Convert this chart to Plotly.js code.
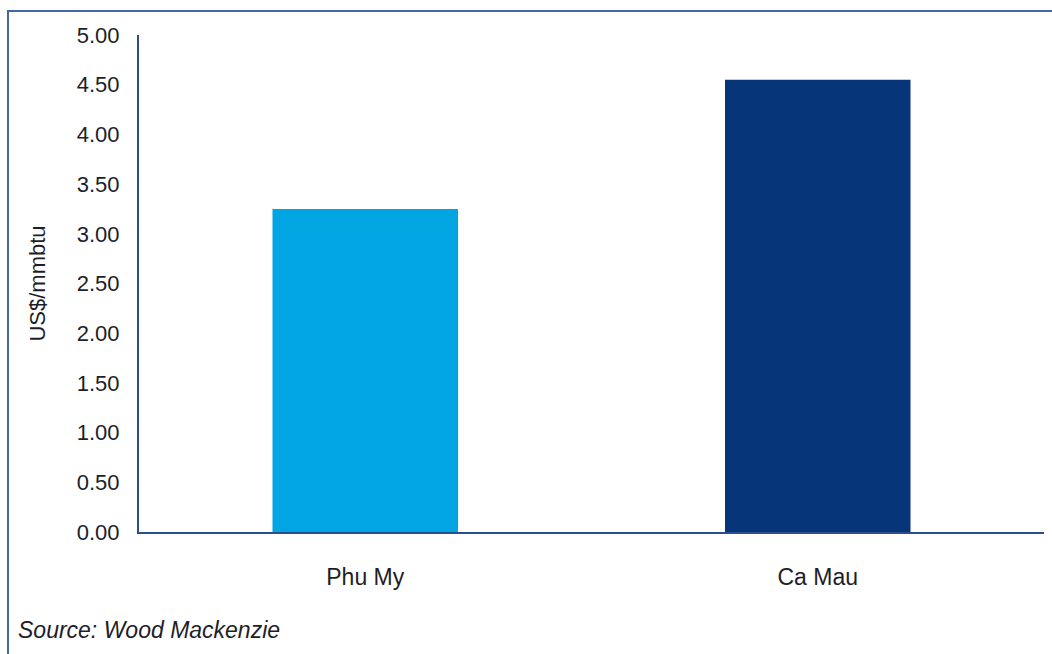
<!DOCTYPE html>
<html>
<head>
<meta charset="utf-8">
<script src="https://cdn.plot.ly/plotly-3.0.1.min.js"></script>
<style>
  html, body { margin: 0; padding: 0; background: #fff; }
  #frame { position: absolute; left: 7px; top: 10px; width: 1100px; height: 700px;
           border-left: 2px solid #4767a3; border-top: 2px solid #4767a3; }
  #chart { position: absolute; left: 0; top: 0; width: 1052px; height: 654px; }
</style>
</head>
<body>
<div id="frame"></div>
<div id="chart"></div>
<script>
const categories = ["Phu My", "Ca Mau"];
const values = [3.25, 4.55];
const barColors = ["#00a5e1", "#06357a"];
const yTickVals = [0, 0.5, 1, 1.5, 2, 2.5, 3, 3.5, 4, 4.5, 5];

const trace = {
  type: "bar",
  x: categories,
  y: values,
  marker: { color: barColors, line: { width: 0 } },
  hoverinfo: "x+y"
};

const axisColor = "#2e4d8c";
const layout = {
  width: 1052,
  height: 654,
  margin: { l: 139, r: 8, t: 35, b: 122 },
  paper_bgcolor: "rgba(0,0,0,0)",
  plot_bgcolor: "rgba(0,0,0,0)",
  bargap: 0.59,
  showlegend: false,
  font: { family: "Liberation Sans, Arial, sans-serif", color: "#1e1e28" },
  xaxis: {
    type: "category",
    showline: true, linecolor: axisColor, linewidth: 2,
    showgrid: false, zeroline: false,
    ticks: "", ticklabelstandoff: 23,
    tickfont: { size: 23 }
  },
  yaxis: {
    range: [0, 5],
    tickvals: yTickVals,
    tickformat: ".2f",
    showline: true, linecolor: axisColor, linewidth: 2,
    showgrid: false, zeroline: false,
    ticks: "", ticklabelstandoff: 13,
    tickfont: { size: 22 },
    title: { text: "US$/mmbtu", font: { size: 22 }, standoff: 25 }
  },
  annotations: [{
    text: "<i>Source: Wood Mackenzie</i>",
    xref: "paper", yref: "paper",
    x: -0.1357, y: -0.197,
    xanchor: "left", yanchor: "middle",
    showarrow: false,
    font: { size: 23, color: "#1e1e28" }
  }]
};

Plotly.newPlot("chart", [trace], layout, { displayModeBar: false, staticPlot: true });
</script>
</body>
</html>
